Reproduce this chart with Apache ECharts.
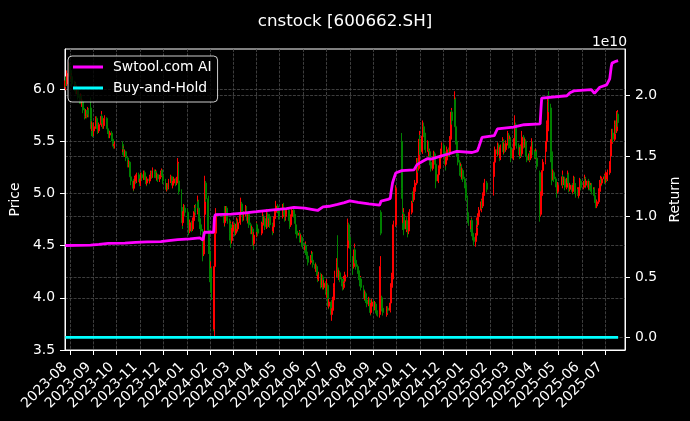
<!DOCTYPE html>
<html><head><meta charset="utf-8">
<script src="https://cdn.jsdelivr.net/npm/echarts@6/dist/echarts.min.js"></script>
<style>html,body{margin:0;padding:0;background:#000;}#chart{width:690px;height:421px;}</style>
</head><body><div id="chart"></div>
<script>
const chartTitle = 'cnstock [600662.SH]';
const firstDay = '2023-07-26';
const lastDay = '2025-07-18';
const holidays = ['2023-09-29','2023-10-02','2023-10-03','2023-10-04','2023-10-05','2023-10-06','2024-01-01',
'2024-02-09','2024-02-12','2024-02-13','2024-02-14','2024-02-15','2024-02-16','2024-04-04','2024-04-05',
'2024-05-01','2024-05-02','2024-05-03','2024-06-10','2024-09-16','2024-09-17','2024-10-01','2024-10-02',
'2024-10-03','2024-10-04','2024-10-07','2025-01-01','2025-01-28','2025-01-29','2025-01-30','2025-01-31',
'2025-02-03','2025-02-04','2025-04-04','2025-05-01','2025-05-02','2025-05-05','2025-06-02'];
const monthKeys = ['2023-07','2023-08','2023-09','2023-10','2023-11','2023-12','2024-01','2024-02','2024-03',
'2024-04','2024-05','2024-06','2024-07','2024-08','2024-09','2024-10','2024-11','2024-12','2025-01','2025-02',
'2025-03','2025-04','2025-05','2025-06','2025-07'];
// daily candles per month: [open, close, low, high]
const m2307 = [[6.02,6.08,5.99,6.12],[6.08,6.05,6.02,6.12],[6.05,6.15,6.03,6.18],[6.15,6.22,6.12,6.26]];
const m2308 = [[6.22,6.18,6.12,6.25],[6.18,6.10,6.08,6.21],[6.10,6.12,6.06,6.15],[6.12,6.05,6.02,6.14],[6.05,6.02,5.98,6.08],[6.02,6.04,5.98,6.07],[6.04,5.98,5.95,6.06],[5.98,6.00,5.95,6.03],[6.00,5.92,5.90,6.02],[5.92,5.90,5.86,5.95],[5.90,5.93,5.87,5.96],[5.93,5.86,5.84,5.95],[5.86,5.88,5.83,5.91],[5.88,5.80,5.77,5.90],[5.80,5.74,5.71,5.82],[5.74,5.78,5.72,5.81],[5.78,5.75,5.72,5.80],[5.75,5.80,5.73,5.83],[5.80,5.76,5.73,5.82],[5.82,5.72,5.70,5.92],[5.70,5.62,5.55,5.72],[5.62,5.66,5.60,5.69],[5.66,5.60,5.54,5.68]];
const m2309 = [[5.60,5.64,5.55,5.68],[5.64,5.72,5.62,5.74],[5.72,5.66,5.64,5.74],[5.66,5.62,5.58,5.68],[5.62,5.60,5.57,5.64],[5.60,5.66,5.58,5.68],[5.66,5.74,5.64,5.79],[5.74,5.70,5.67,5.76],[5.70,5.65,5.62,5.72],[5.65,5.68,5.62,5.70],[5.68,5.72,5.66,5.75],[5.72,5.66,5.64,5.73],[5.66,5.62,5.59,5.68],[5.62,5.60,5.57,5.64],[5.60,5.56,5.53,5.62],[5.56,5.58,5.53,5.60],[5.58,5.52,5.50,5.60],[5.52,5.48,5.45,5.54],[5.48,5.46,5.43,5.50],[5.46,5.47,5.43,5.50]];
const m2310 = [[5.47,5.40,5.37,5.50],[5.40,5.42,5.37,5.45],[5.42,5.38,5.35,5.44],[5.38,5.40,5.35,5.42],[5.40,5.34,5.31,5.41],[5.34,5.28,5.25,5.35],[5.28,5.30,5.25,5.32],[5.30,5.24,5.21,5.31],[5.24,5.16,5.13,5.25],[5.16,5.12,5.08,5.18],[5.12,5.05,5.02,5.14],[5.05,5.10,5.03,5.12],[5.10,5.15,5.08,5.17],[5.15,5.12,5.09,5.17],[5.12,5.18,5.10,5.20],[5.18,5.14,5.11,5.20],[5.14,5.10,5.07,5.16]];
const m2311 = [[5.10,5.14,5.07,5.16],[5.14,5.18,5.12,5.20],[5.18,5.15,5.12,5.20],[5.15,5.20,5.13,5.22],[5.20,5.16,5.13,5.22],[5.16,5.12,5.09,5.17],[5.12,5.10,5.07,5.14],[5.10,5.14,5.08,5.16],[5.14,5.12,5.09,5.16],[5.12,5.16,5.10,5.18],[5.16,5.20,5.14,5.22],[5.20,5.17,5.14,5.22],[5.17,5.22,5.15,5.25],[5.22,5.18,5.15,5.23],[5.18,5.21,5.16,5.23],[5.21,5.15,5.12,5.22],[5.15,5.18,5.13,5.20],[5.18,5.14,5.11,5.19],[5.14,5.16,5.11,5.18],[5.16,5.20,5.14,5.22],[5.20,5.22,5.17,5.24],[5.22,5.17,5.14,5.23]];
const m2312 = [[5.17,5.12,5.09,5.18],[5.12,5.08,5.05,5.14],[5.08,5.04,5.02,5.10],[5.04,5.08,5.02,5.10],[5.08,5.06,5.03,5.10],[5.06,5.12,5.04,5.14],[5.12,5.16,5.10,5.18],[5.16,5.12,5.09,5.17],[5.12,5.08,5.05,5.14],[5.08,5.10,5.05,5.12],[5.10,5.14,5.08,5.16],[5.14,5.10,5.07,5.15],[5.10,5.14,5.08,5.16],[5.13,5.30,5.12,5.34],[5.28,5.12,5.10,5.29],[5.12,5.02,4.99,5.13],[5.02,4.85,4.82,5.04],[4.85,4.72,4.66,4.87],[4.72,4.80,4.69,4.83],[4.80,4.86,4.77,4.90],[4.86,4.82,4.78,4.89]];
const m2401 = [[4.82,4.76,4.70,4.86],[4.76,4.70,4.67,4.78],[4.70,4.64,4.60,4.72],[4.64,4.72,4.62,4.75],[4.72,4.66,4.63,4.74],[4.66,4.74,4.64,4.77],[4.74,4.80,4.72,4.83],[4.80,4.86,4.78,4.89],[4.86,4.82,4.79,4.90],[4.82,4.92,4.80,4.98],[4.92,4.86,4.83,4.94],[4.86,4.76,4.73,4.88],[4.76,4.70,4.66,4.78],[4.70,4.64,4.60,4.72],[4.64,4.42,4.35,4.66],[4.42,4.55,4.40,4.58],[4.55,4.80,4.52,4.84],[4.80,5.10,4.78,5.17],[5.10,4.95,4.92,5.12],[4.95,4.65,4.62,4.98],[4.65,4.45,4.42,4.68],[4.45,4.22,4.15,4.48]];
const m2402 = [[4.22,4.28,4.12,4.35],[4.28,4.05,3.98,4.30],[4.05,3.72,3.68,4.08],[3.70,4.30,3.63,4.35],[4.30,4.62,4.28,4.68],[4.62,4.80,4.58,4.86],[4.80,4.72,4.68,4.88],[4.72,4.78,4.69,4.81],[4.78,4.86,4.75,4.88],[4.86,4.80,4.76,4.88],[4.80,4.74,4.71,4.82],[4.74,4.62,4.55,4.76],[4.62,4.70,4.60,4.73],[4.70,4.55,4.48,4.72],[4.55,4.64,4.52,4.67]];
const m2403 = [[4.64,4.70,4.62,4.73],[4.70,4.62,4.59,4.72],[4.62,4.68,4.60,4.71],[4.68,4.74,4.66,4.77],[4.74,4.66,4.63,4.76],[4.66,4.72,4.64,4.75],[4.72,4.80,4.70,4.83],[4.80,4.90,4.78,4.96],[4.90,4.82,4.79,4.92],[4.82,4.76,4.73,4.84],[4.76,4.80,4.74,4.83],[4.80,4.86,4.78,4.89],[4.86,4.78,4.75,4.88],[4.78,4.74,4.71,4.80],[4.74,4.80,4.72,4.82],[4.80,4.70,4.67,4.82],[4.70,4.64,4.61,4.72],[4.64,4.66,4.61,4.69],[4.66,4.56,4.50,4.68],[4.56,4.52,4.46,4.58],[4.52,4.60,4.50,4.63]];
const m2404 = [[4.60,4.70,4.58,4.73],[4.70,4.66,4.63,4.72],[4.66,4.62,4.59,4.68],[4.62,4.70,4.60,4.73],[4.70,4.78,4.68,4.83],[4.78,4.72,4.69,4.80],[4.72,4.76,4.70,4.78],[4.76,4.68,4.65,4.78],[4.68,4.80,4.66,4.85],[4.80,4.70,4.67,4.82],[4.70,4.74,4.68,4.76],[4.74,4.78,4.72,4.80],[4.78,4.70,4.67,4.80],[4.70,4.64,4.60,4.72],[4.64,4.68,4.62,4.70],[4.68,4.76,4.66,4.78],[4.76,4.82,4.74,4.85],[4.82,4.88,4.80,4.93],[4.88,4.84,4.81,4.90],[4.84,4.78,4.75,4.86]];
const m2405 = [[4.78,4.86,4.76,4.90],[4.86,4.82,4.79,4.91],[4.82,4.76,4.73,4.84],[4.76,4.80,4.74,4.82],[4.80,4.84,4.78,4.86],[4.84,4.78,4.75,4.86],[4.78,4.74,4.71,4.80],[4.74,4.70,4.66,4.76],[4.70,4.78,4.68,4.80],[4.78,4.84,4.76,4.87],[4.84,4.80,4.77,4.86],[4.80,4.74,4.71,4.82],[4.74,4.70,4.67,4.76],[4.70,4.64,4.61,4.72],[4.64,4.60,4.57,4.66],[4.60,4.62,4.57,4.65],[4.62,4.56,4.53,4.64],[4.56,4.58,4.53,4.61],[4.58,4.52,4.49,4.60],[4.52,4.50,4.47,4.55]];
const m2406 = [[4.50,4.46,4.43,4.53],[4.46,4.50,4.44,4.54],[4.50,4.44,4.41,4.52],[4.44,4.40,4.37,4.46],[4.40,4.34,4.31,4.42],[4.34,4.38,4.32,4.41],[4.38,4.42,4.36,4.45],[4.42,4.36,4.33,4.44],[4.36,4.32,4.29,4.38],[4.32,4.28,4.25,4.34],[4.28,4.30,4.25,4.33],[4.30,4.24,4.21,4.32],[4.24,4.18,4.15,4.26],[4.18,4.22,4.16,4.25],[4.22,4.12,4.09,4.24],[4.12,4.16,4.10,4.19],[4.16,4.20,4.14,4.23],[4.20,4.10,4.08,4.22],[4.10,4.14,4.08,4.17]];
const m2407 = [[4.14,4.06,4.03,4.16],[4.06,4.12,4.00,4.18],[4.12,4.00,3.97,4.14],[4.00,3.92,3.89,4.02],[3.92,3.96,3.90,3.99],[3.96,3.84,3.80,3.98],[3.84,3.88,3.78,3.90],[3.88,3.98,3.86,4.01],[3.98,4.10,3.96,4.14],[4.10,4.22,4.08,4.26],[4.22,4.34,4.20,4.38],[4.45,4.26,4.22,4.60],[4.26,4.20,4.17,4.29],[4.20,4.24,4.17,4.27],[4.24,4.18,4.15,4.26],[4.18,4.14,4.11,4.20],[4.14,4.10,4.07,4.16],[4.10,4.18,4.08,4.21],[4.18,4.16,4.13,4.22],[4.16,4.22,4.14,4.25],[4.22,4.48,4.20,4.52],[4.48,4.70,4.46,4.76],[4.70,4.58,4.55,4.72]];
const m2408 = [[4.58,4.50,4.47,4.60],[4.50,4.38,4.35,4.52],[4.38,4.30,4.22,4.40],[4.30,4.40,4.28,4.43],[4.40,4.46,4.38,4.52],[4.46,4.36,4.33,4.48],[4.36,4.30,4.27,4.38],[4.30,4.26,4.23,4.32],[4.26,4.20,4.17,4.28],[4.20,4.14,4.11,4.22],[4.14,4.18,4.12,4.21],[4.18,4.10,4.07,4.20],[4.10,4.06,4.03,4.12],[4.06,4.00,3.97,4.08],[4.00,4.04,3.98,4.07],[4.04,3.98,3.95,4.06],[3.98,3.94,3.91,4.00],[3.94,3.98,3.92,4.01],[3.98,3.90,3.87,4.00],[3.90,3.86,3.83,3.92],[3.86,3.92,3.84,3.95],[3.92,3.96,3.89,3.99]];
const m2409 = [[3.96,3.90,3.87,3.98],[3.90,3.94,3.88,3.97],[3.94,3.88,3.85,3.96],[3.88,3.86,3.83,3.90],[3.86,3.84,3.82,3.88],[3.84,3.86,3.81,3.88],[3.86,4.30,3.85,4.40],[4.82,4.62,4.60,4.84],[4.00,3.90,3.87,4.02],[3.90,3.86,3.83,3.92],[3.86,3.84,3.82,3.88],[3.84,3.90,3.82,3.92],[3.90,3.88,3.85,3.92],[3.88,3.95,3.86,3.98],[3.95,4.10,3.93,4.14],[4.10,4.18,4.06,4.24],[4.18,4.45,4.16,4.48],[4.45,4.70,4.42,4.74],[4.70,5.05,4.68,5.08]];
const m2410 = [[5.50,5.05,4.95,5.58],[5.05,4.72,4.65,5.08],[4.72,4.80,4.68,4.86],[4.80,4.66,4.60,4.82],[4.66,4.74,4.63,4.77],[4.74,4.68,4.65,4.77],[4.68,4.64,4.58,4.70],[4.64,4.70,4.61,4.73],[4.70,4.82,4.68,4.85],[4.82,4.90,4.80,4.93],[4.90,4.98,4.87,5.01],[4.98,4.94,4.91,5.02],[4.94,5.02,4.92,5.06],[5.02,5.10,5.00,5.13],[5.10,5.30,5.08,5.34],[5.30,5.24,5.20,5.34],[5.24,5.40,5.22,5.44],[5.40,5.52,5.38,5.60]];
const m2411 = [[5.52,5.40,5.37,5.56],[5.40,5.55,5.38,5.58],[5.55,5.64,5.52,5.70],[5.64,5.58,5.54,5.68],[5.58,5.50,5.47,5.61],[5.50,5.42,5.39,5.53],[5.42,5.48,5.40,5.51],[5.48,5.36,5.33,5.50],[5.36,5.40,5.34,5.43],[5.40,5.30,5.27,5.42],[5.30,5.24,5.21,5.32],[5.24,5.30,5.22,5.33],[5.30,5.38,5.28,5.41],[5.38,5.34,5.31,5.40],[5.34,5.28,5.25,5.36],[5.28,5.12,5.05,5.30],[5.12,5.18,5.10,5.21],[5.18,5.24,5.16,5.27],[5.24,5.34,5.22,5.37],[5.34,5.40,5.32,5.43],[5.40,5.46,5.38,5.49]];
const m2412 = [[5.46,5.40,5.37,5.48],[5.40,5.34,5.31,5.42],[5.34,5.28,5.22,5.36],[5.28,5.32,5.26,5.35],[5.32,5.42,5.30,5.45],[5.42,5.38,5.35,5.44],[5.38,5.52,5.36,5.55],[5.52,5.60,5.50,5.64],[5.60,5.78,5.58,5.82],[5.78,5.70,5.66,5.80],[5.70,5.90,5.68,5.98],[5.90,5.64,5.60,5.92],[5.64,5.50,5.47,5.66],[5.50,5.38,5.35,5.52],[5.38,5.30,5.27,5.40],[5.30,5.20,5.17,5.32],[5.20,5.26,5.18,5.29],[5.26,5.16,5.13,5.28],[5.16,5.22,5.14,5.25],[5.22,5.14,5.11,5.24],[5.14,5.08,5.05,5.16],[5.08,4.96,4.93,5.10]];
const m2501 = [[4.96,4.80,4.77,4.98],[4.80,4.72,4.69,4.82],[4.72,4.66,4.63,4.74],[4.66,4.74,4.64,4.77],[4.74,4.62,4.59,4.76],[4.62,4.58,4.55,4.64],[4.58,4.54,4.50,4.60],[4.54,4.60,4.49,4.62],[4.60,4.74,4.58,4.77],[4.74,4.70,4.67,4.76],[4.70,4.78,4.68,4.81],[4.78,4.84,4.76,4.87],[4.84,4.92,4.82,4.95],[4.92,4.88,4.85,4.94],[4.88,4.98,4.86,5.01],[4.98,5.06,4.96,5.09],[5.06,5.10,5.04,5.14],[5.10,5.04,5.01,5.12]];
const m2502 = [[5.04,5.18,4.98,5.21],[5.18,5.30,5.16,5.33],[5.30,5.42,5.28,5.45],[5.42,5.38,5.35,5.44],[5.38,5.46,5.36,5.49],[5.46,5.40,5.37,5.48],[5.40,5.34,5.31,5.42],[5.34,5.44,5.32,5.47],[5.44,5.50,5.42,5.54],[5.50,5.40,5.37,5.52],[5.40,5.46,5.38,5.49],[5.46,5.42,5.39,5.48],[5.42,5.48,5.40,5.51],[5.48,5.56,5.46,5.60],[5.56,5.46,5.43,5.58],[5.46,5.52,5.44,5.55],[5.52,5.44,5.41,5.54],[5.44,5.34,5.30,5.46]];
const m2503 = [[5.34,5.42,5.32,5.45],[5.42,5.50,5.40,5.53],[5.50,5.66,5.48,5.75],[5.66,5.52,5.49,5.68],[5.52,5.46,5.43,5.54],[5.46,5.40,5.37,5.48],[5.40,5.36,5.33,5.42],[5.36,5.44,5.34,5.47],[5.44,5.38,5.35,5.46],[5.38,5.54,5.36,5.60],[5.54,5.46,5.43,5.56],[5.46,5.50,5.44,5.53],[5.50,5.40,5.37,5.52],[5.40,5.36,5.33,5.42],[5.36,5.32,5.30,5.38],[5.32,5.38,5.30,5.41],[5.38,5.34,5.31,5.40],[5.34,5.42,5.32,5.45],[5.42,5.48,5.40,5.53],[5.48,5.40,5.37,5.50],[5.40,5.36,5.33,5.42]];
const m2504 = [[5.36,5.40,5.33,5.43],[5.40,5.34,5.31,5.42],[5.34,5.26,5.23,5.36],[5.20,4.80,4.73,5.22],[4.80,4.98,4.78,5.02],[4.98,5.12,4.96,5.16],[5.12,5.22,5.10,5.26],[5.22,5.30,5.20,5.33],[5.30,5.42,5.28,5.45],[5.42,5.50,5.40,5.53],[5.50,5.66,5.48,5.70],[5.60,5.88,5.58,5.92],[5.88,5.82,5.78,5.98],[5.82,5.40,5.30,5.86],[5.40,5.20,5.08,5.44],[5.20,5.16,5.12,5.24],[5.16,5.20,5.13,5.23],[5.20,5.14,5.11,5.22],[5.14,5.10,5.06,5.16],[5.10,5.02,4.96,5.12],[5.02,5.08,5.00,5.11]];
const m2505 = [[5.08,5.16,5.05,5.22],[5.16,5.10,5.07,5.18],[5.10,5.14,5.08,5.16],[5.14,5.06,5.03,5.16],[5.06,5.12,5.04,5.15],[5.12,5.18,5.10,5.22],[5.18,5.10,5.07,5.20],[5.10,5.04,5.01,5.12],[5.04,5.08,5.02,5.10],[5.08,5.02,4.99,5.10],[5.02,5.06,5.00,5.08],[5.06,5.14,5.04,5.17],[5.14,5.08,5.05,5.16],[5.08,5.00,4.96,5.10],[5.00,5.04,4.98,5.06],[5.04,4.98,4.95,5.06],[4.98,5.04,4.96,5.06],[5.04,5.12,5.02,5.15],[5.12,5.06,5.03,5.14]];
const m2506 = [[5.06,5.10,5.04,5.12],[5.10,5.14,5.08,5.18],[5.14,5.08,5.05,5.16],[5.08,5.12,5.06,5.14],[5.12,5.06,5.03,5.14],[5.06,5.10,5.04,5.12],[5.10,5.06,5.03,5.12],[5.06,5.08,5.03,5.10],[5.08,5.02,4.99,5.10],[5.02,5.04,5.00,5.06],[5.04,4.98,4.95,5.06],[4.98,4.94,4.91,5.00],[4.94,4.88,4.86,4.96],[4.88,4.92,4.86,4.94],[4.92,5.02,4.90,5.05],[5.02,5.10,5.00,5.13],[5.10,5.14,5.08,5.17],[5.14,5.10,5.07,5.16],[5.10,5.14,5.08,5.16],[5.14,5.16,5.11,5.19]];
const m2507 = [[5.16,5.12,5.09,5.18],[5.12,5.18,5.10,5.21],[5.18,5.14,5.11,5.20],[5.14,5.20,5.12,5.23],[5.20,5.28,5.18,5.31],[5.28,5.36,5.26,5.40],[5.36,5.48,5.34,5.52],[5.48,5.58,5.46,5.62],[5.58,5.52,5.49,5.62],[5.52,5.66,5.50,5.70],[5.66,5.60,5.57,5.70],[5.60,5.72,5.58,5.79],[5.72,5.76,5.68,5.80],[5.76,5.68,5.64,5.78]];
const monthlyCandles = [m2307,m2308,m2309,m2310,m2311,m2312,m2401,m2402,m2403,m2404,m2405,m2406,m2407,m2408,m2409,m2410,m2411,m2412,m2501,m2502,m2503,m2504,m2505,m2506,m2507];
// strategy return (units of 1e10)
const stratReturn = [['2023-07-26',0.76],['2023-08-10',0.761],['2023-08-28',0.764],['2023-09-08',0.77],['2023-09-20',0.777],['2023-10-12',0.779],['2023-10-26',0.786],['2023-11-10',0.79],['2023-11-28',0.792],['2023-12-08',0.80],['2023-12-20',0.808],['2024-01-05',0.815],['2024-01-18',0.824],['2024-01-22',0.805],['2024-01-23',0.82],['2024-01-24',0.87],['2024-02-05',0.87],['2024-02-06',0.99],['2024-02-07',1.015],['2024-02-28',1.02],['2024-03-15',1.028],['2024-04-01',1.04],['2024-04-26',1.058],['2024-05-10',1.066],['2024-05-20',1.075],['2024-06-03',1.07],['2024-06-12',1.06],['2024-06-20',1.05],['2024-06-27',1.08],['2024-07-05',1.085],['2024-07-16',1.10],['2024-07-25',1.115],['2024-08-01',1.13],['2024-08-12',1.117],['2024-08-26',1.105],['2024-09-09',1.094],['2024-09-11',1.128],['2024-09-20',1.142],['2024-09-23',1.15],['2024-09-24',1.20],['2024-09-26',1.28],['2024-09-30',1.36],['2024-10-08',1.38],['2024-10-24',1.386],['2024-10-28',1.43],['2024-11-05',1.46],['2024-11-11',1.48],['2024-11-15',1.475],['2024-11-28',1.50],['2024-12-09',1.52],['2024-12-19',1.54],['2025-01-08',1.53],['2025-01-15',1.544],['2025-01-17',1.58],['2025-01-21',1.655],['2025-02-06',1.67],['2025-02-07',1.68],['2025-02-10',1.725],['2025-03-03',1.74],['2025-03-17',1.76],['2025-04-07',1.767],['2025-04-08',1.88],['2025-04-09',1.98],['2025-05-12',2.0],['2025-05-16',2.025],['2025-05-21',2.04],['2025-06-13',2.05],['2025-06-17',2.02],['2025-06-24',2.07],['2025-07-03',2.09],['2025-07-07',2.14],['2025-07-09',2.24],['2025-07-10',2.27],['2025-07-15',2.285],['2025-07-16',2.27],['2025-07-18',2.29]];
const holdReturn = [['2023-07-26',0],['2025-07-18',0]];
const priceTicks = [3.5,4.0,4.5,5.0,5.5,6.0];
const returnTicks = [0,0.5,1.0,1.5,2.0];
const monthTicks = ['2023-08-01','2023-09-01','2023-10-01','2023-11-01','2023-12-01','2024-01-01','2024-02-01','2024-03-01','2024-04-01','2024-05-01','2024-06-01','2024-07-01','2024-08-01','2024-09-01','2024-10-01','2024-11-01','2024-12-01','2025-01-01','2025-02-01','2025-03-01','2025-04-01','2025-05-01','2025-06-01','2025-07-01'];

function ts(s){ const p = s.split('-').map(Number); return Date.UTC(p[0], p[1]-1, p[2]); }
const holidaySet = new Set(holidays);
const startTs = ts(firstDay), endTs = ts(lastDay);
const candles = [];
monthKeys.forEach((mk, i) => {
  const [y, m] = mk.split('-').map(Number);
  const nDays = new Date(Date.UTC(y, m, 0)).getUTCDate();
  const days = [];
  for (let d = 1; d <= nDays; d++) {
    const t = Date.UTC(y, m-1, d);
    if (t < startTs || t > endTs) continue;
    const wd = new Date(t).getUTCDay();
    if (wd === 0 || wd === 6) continue;
    const key = mk + '-' + String(d).padStart(2,'0');
    if (holidaySet.has(key)) continue;
    days.push(t);
  }
  const arr = monthlyCandles[i];
  if (arr.length !== days.length) console.warn('month', mk, arr.length, days.length);
  for (let j = 0; j < Math.min(arr.length, days.length); j++) {
    candles.push([days[j], arr[j][0], arr[j][1], arr[j][2], arr[j][3]]);
  }
});

const FONT = 'DejaVu Sans';
const FS = 13.9;
const pad2 = n => String(n).padStart(2,'0');
const chart = echarts.init(document.getElementById('chart'), null, {renderer: 'canvas'});
const gridLine = {show: true, lineStyle: {color: '#4d4d4d', type: [3, 1.3], width: 0.8}};
chart.setOption({
  backgroundColor: '#000',
  animation: false,
  title: {text: chartTitle, left: 'center', top: 8,
    textStyle: {color: '#fff', fontFamily: FONT, fontSize: 16.7, fontWeight: 'normal'}},
  legend: {
    data: ['Swtool.com AI', 'Buy-and-Hold'], orient: 'vertical', left: 68, top: 56,
    selectedMode: false, icon: 'path://M0,0H30V3H0Z M35,1.5L35,1.5',
    itemWidth: 35, itemHeight: 3, itemGap: 5,
    padding: [3, 6, 6, 5],
    backgroundColor: 'rgba(0,0,0,0.8)', borderColor: 'rgba(255,255,255,0.8)', borderWidth: 1, borderRadius: 4,
    itemStyle: {borderWidth: 0},
    textStyle: {color: '#fff', fontFamily: FONT, fontSize: FS, lineHeight: 16}
  },
  graphic: [{type: 'text', x: 627, y: 42, z: 100,
    style: {text: '1e10', fill: '#fff', font: FS + 'px "' + FONT + '"', align: 'right', verticalAlign: 'middle'}}],
  grid: {left: 61, right: 60.5, top: 49, bottom: 71, show: true, borderColor: '#fff', borderWidth: 1, backgroundColor: 'transparent'},
  xAxis: {
    type: 'value', min: Date.UTC(2023,6,25,13,30), max: Date.UTC(2025,6,27,0),
    axisLine: {show: true, onZero: false, lineStyle: {color: '#fff'}},
    axisTick: {show: true, customValues: monthTicks.map(ts), length: 5, lineStyle: {color: '#fff'}},
    axisLabel: {customValues: monthTicks.map(ts), rotate: 45, margin: 10, padding: [0, 7, 0, 0],
      color: '#fff', fontFamily: FONT, fontSize: FS,
      formatter: v => { const d = new Date(v); return d.getUTCFullYear() + '-' + pad2(d.getUTCMonth()+1); }},
    splitLine: gridLine
  },
  yAxis: [
    {type: 'value', position: 'left', min: 3.5, max: 6.385,
     name: 'Price', nameLocation: 'middle', nameGap: 36, nameRotate: 90,
     nameTextStyle: {color: '#fff', fontFamily: FONT, fontSize: FS},
     axisLine: {show: true, lineStyle: {color: '#fff'}},
     axisTick: {show: true, customValues: priceTicks, length: 5, lineStyle: {color: '#fff'}},
     axisLabel: {customValues: priceTicks, color: '#fff', fontFamily: FONT, fontSize: FS, margin: 10, formatter: v => v.toFixed(1)},
     splitLine: gridLine},
    {type: 'value', position: 'right', min: -0.105, max: 2.387,
     name: 'Return', nameLocation: 'middle', nameGap: 36, nameRotate: 90,
     nameTextStyle: {color: '#fff', fontFamily: FONT, fontSize: FS},
     axisLine: {show: true, lineStyle: {color: '#fff'}},
     axisTick: {show: true, customValues: returnTicks, length: 5, lineStyle: {color: '#fff'}},
     axisLabel: {customValues: returnTicks, color: '#fff', fontFamily: FONT, fontSize: FS, margin: 10, formatter: v => v.toFixed(1)},
     splitLine: gridLine}
  ],
  series: [
    {name: 'Price', type: 'candlestick', xAxisIndex: 0, yAxisIndex: 0, data: candles, z: 2, barWidth: 1.4,
     itemStyle: {color: '#ff0000', color0: '#008000', borderColor: '#ff0000', borderColor0: '#008000', borderWidth: 1}},
    {name: 'Swtool.com AI', type: 'line', yAxisIndex: 1, z: 5, showSymbol: false, symbol: 'none',
     data: stratReturn.map(p => [ts(p[0]), p[1]]), itemStyle: {color: '#ff00ff'}, lineStyle: {color: '#ff00ff', width: 2.8}},
    {name: 'Buy-and-Hold', type: 'line', yAxisIndex: 1, z: 5, showSymbol: false, symbol: 'none',
     data: holdReturn.map(p => [ts(p[0]), p[1]]), itemStyle: {color: '#00ffff'}, lineStyle: {color: '#00ffff', width: 2.8}}
  ]
});
</script></body></html>
